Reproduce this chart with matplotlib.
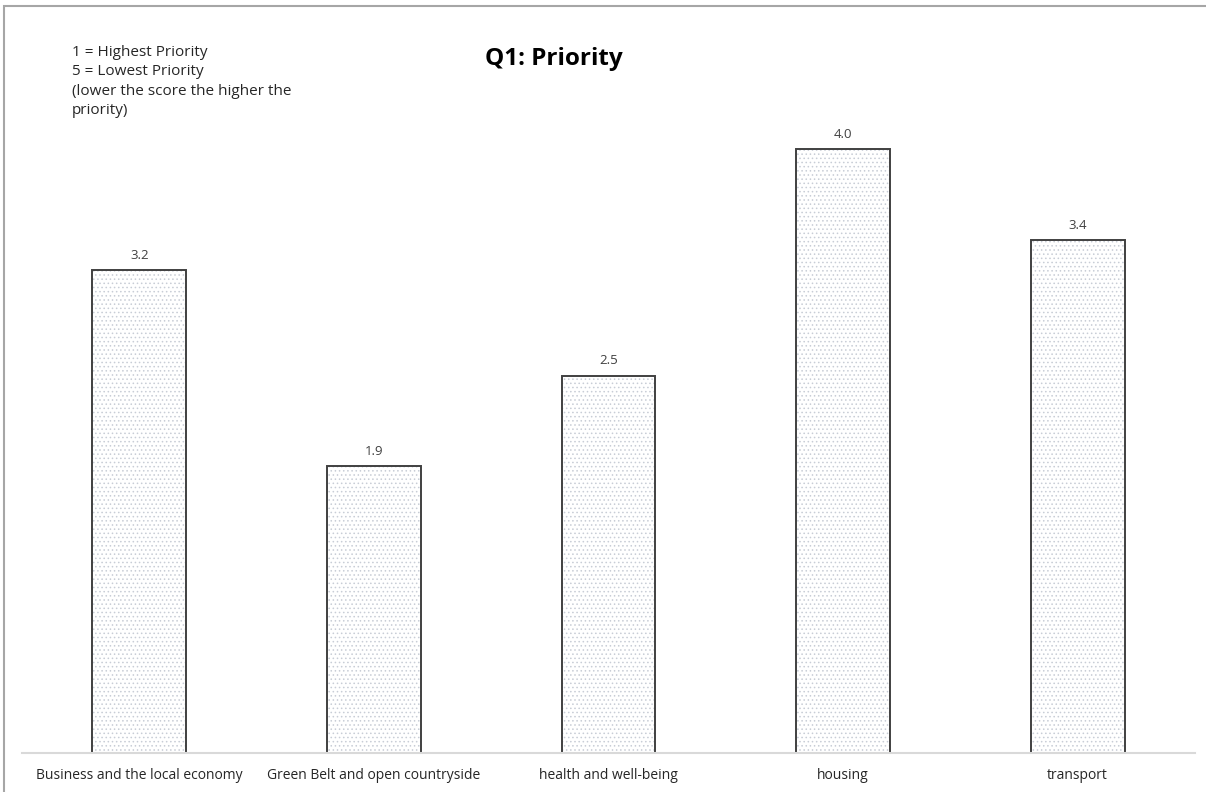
import matplotlib
matplotlib.use("Agg")
import matplotlib.pyplot as plt
from matplotlib.patches import Rectangle

categories = ["Business and the local economy", "Green Belt and open countryside",
              "health and well-being", "housing", "transport"]
scores = [3.2, 1.9, 2.5, 4.0, 3.4]
title = "Q1: Priority"
note = "1 = Highest Priority\n5 = Lowest Priority\n(lower the score the higher the\npriority)"

W, H = 1206, 792
fig = plt.figure(figsize=(W / 100, H / 100), dpi=100)
plt.rcParams['font.family'] = ['Open Sans', 'DejaVu Sans']

# axes placed in pixel terms: baseline at y=753, spans x 22..1195
ax = fig.add_axes([22 / W, (H - 753) / H, (1195 - 22) / W, (753 - 74) / H])
x = list(range(len(categories)))

plt.rcParams['hatch.linewidth'] = 0.6
ax.bar(x, scores, width=0.4, color="white", edgecolor="#c8cdd6", hatch="....",
       linewidth=0, zorder=1)
ax.bar(x, scores, width=0.4, fill=False, edgecolor="#404040", linewidth=1.4, zorder=2)

for xi, v in zip(x, scores):
    ax.annotate(f"{v:.1f}", (xi, v), xytext=(0, 6), textcoords="offset points",
                ha="center", va="bottom", fontsize=9.5, color="#404040")

ax.set_xlim(-0.5, len(categories) - 0.5)
ax.set_ylim(0, 4.5)
ax.set_xticks(x)
ax.set_xticklabels(categories, fontsize=10, color="#262626")
ax.tick_params(axis="x", length=0, pad=11)
ax.set_yticks([])
for s in ["top", "right", "left"]:
    ax.spines[s].set_visible(False)
ax.spines["bottom"].set_color("#d9d9d9")
ax.spines["bottom"].set_linewidth(1.5)

fig.text(554 / W, 1 - 59 / H, title, ha="center", va="center",
         fontsize=17.5, fontweight="bold", color="black")
fig.text(72 / W, 1 - 45 / H, note, ha="left", va="top", fontsize=11,
         color="#262626", linespacing=1.4)

# outer chart frame (only top and left edges visible)
fig.add_artist(Rectangle((4 / W, -0.5), 2, 0.5 + (H - 6) / H, transform=fig.transFigure,
                         fill=False, edgecolor="#a6a6a6", linewidth=1.5))

fig.savefig("out.png", dpi=100)
